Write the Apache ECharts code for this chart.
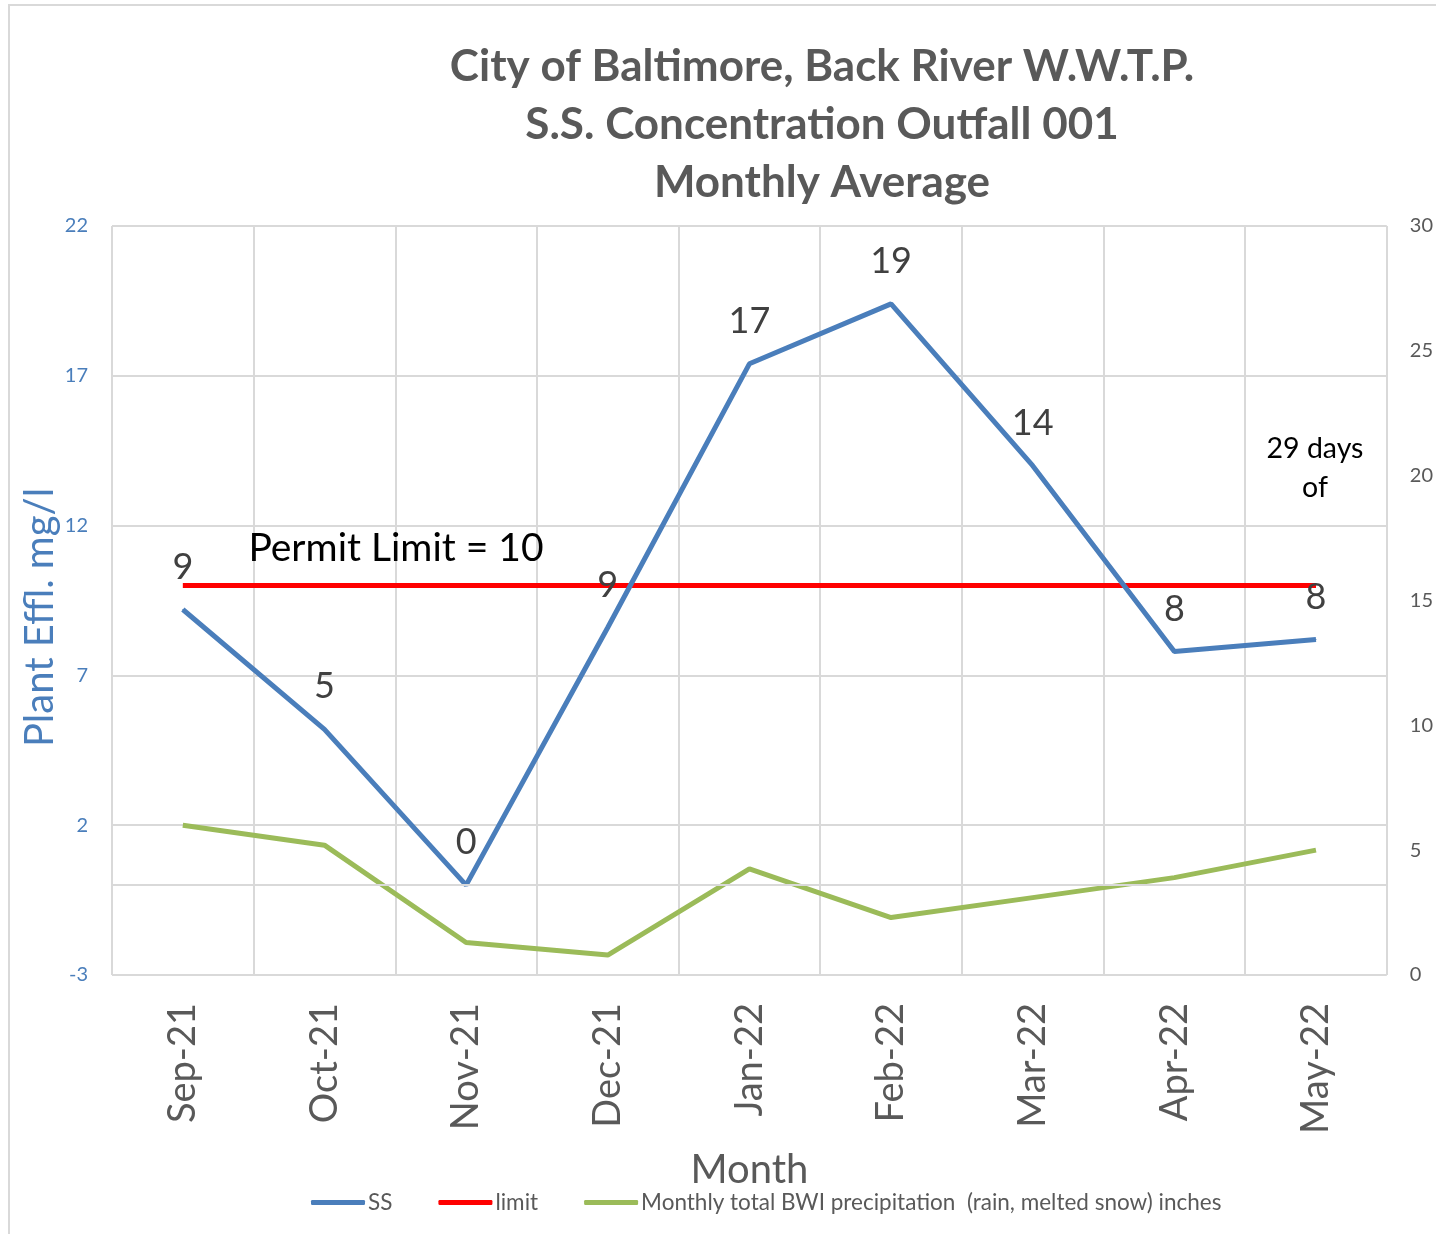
<!DOCTYPE html>
<html>
<head>
<meta charset="utf-8">
<script src="https://cdn.jsdelivr.net/npm/echarts@6/dist/echarts.min.js"></script>
<style>
  html, body { margin: 0; padding: 0; background: #fff; }
  #chart { width: 1436px; height: 1234px; }
</style>
</head>
<body>
<div id="chart"></div>
<script>
// values
const months = ["Sep-21", "Oct-21", "Nov-21", "Dec-21", "Jan-22", "Feb-22", "Mar-22", "Apr-22", "May-22"];
const ssValues = [9.2, 5.2, 0, 8.6, 17.4, 19.4, 14.0, 7.8, 8.2];
const limitValues = [10, 10, 10, 10, 10, 10, 10, 10, 10];
const precipValues = [6.0, 5.2, 1.3, 0.8, 4.25, 2.3, 3.1, 3.9, 5.0];

const font = "Lato, 'Open Sans', sans-serif";
const gridColor = "#d9d9d9";

const chart = echarts.init(document.getElementById("chart"));

let option = {
  backgroundColor: "#fff",
  textStyle: { fontFamily: font },
  title: {
    text: "City of Baltimore, Back River W.W.T.P.\nS.S. Concentration Outfall 001\nMonthly Average",
    left: 822,
    top: 38,
    padding: 0,
    textAlign: "center",
    textStyle: {
      fontFamily: font,
      fontSize: 44,
      fontWeight: "bold",
      color: "#595959",
      lineHeight: 58,
    },
  },
  legend: {
    data: ["SS", "limit", "Monthly total BWI precipitation  (rain, melted snow) inches"],
    left: 306,
    top: 1186,
    itemWidth: 54,
    itemHeight: 5,
    itemGap: 46,
    icon: "roundRect",
    textStyle: { fontFamily: font, fontSize: 22.5, color: "#595959", padding: [0, 0, 0, -2] },
  },
  grid: {
    left: 112,
    right: 49,
    top: 226,
    bottom: 259,
  },
  xAxis: {
    type: "category",
    data: months,
    boundaryGap: true,
    name: "Month",
    nameLocation: "middle",
    nameGap: 175,
    nameTextStyle: { fontFamily: font, fontSize: 40, color: "#595959" },
    axisLine: { show: false },
    axisTick: { show: false },
    axisLabel: { rotate: 90, fontSize: 38, color: "#595959", margin: 28, fontFamily: font },
    splitLine: { show: true, lineStyle: { color: gridColor, width: 2 } },
  },
  yAxis: [
    {
      type: "value",
      min: -3,
      max: 22,
      interval: 5,
      name: "Plant Effl. mg/l",
      nameLocation: "middle",
      nameGap: 52,
      nameMoveOverlap: false,
      nameTextStyle: { fontFamily: font, fontSize: 40, color: "#4A7EBB", padding: [0, 34, 0, 0] },
      axisLine: { show: false },
      axisTick: { show: false },
      axisLabel: { fontSize: 20, color: "#4A7EBB", margin: 24, fontFamily: font },
      splitLine: { show: true, lineStyle: { color: gridColor, width: 2 } },
    },
    {
      type: "value",
      min: 0,
      max: 30,
      interval: 5,
      position: "right",
      axisLine: { show: false },
      axisTick: { show: false },
      axisLabel: { fontSize: 20, color: "#595959", margin: 23, fontFamily: font },
      splitLine: { show: false },
    },
  ],
  series: [
    {
      name: "SS",
      type: "line",
      yAxisIndex: 0,
      data: ssValues,
      symbol: "circle",
      symbolSize: 1,
      itemStyle: { color: "#4A7EBB" },
      lineStyle: { color: "#4A7EBB", width: 5 },
      label: {
        show: true,
        position: "top",
        distance: 24,
        fontSize: 36,
        color: "#404040",
        fontFamily: font,
        formatter: (p) => Math.round(p.value),
      },
      markLine: {
        silent: true,
        symbol: "none",
        label: { show: false },
        lineStyle: { color: gridColor, width: 2, type: "solid" },
        data: [{ yAxis: 0 }],
      },
      z: 3,
    },
    {
      name: "limit",
      type: "line",
      yAxisIndex: 0,
      data: limitValues,
      symbol: "none",
      itemStyle: { color: "#FF0000" },
      lineStyle: { color: "#FF0000", width: 5 },
      z: 2,
    },
    {
      name: "Monthly total BWI precipitation  (rain, melted snow) inches",
      type: "line",
      yAxisIndex: 1,
      data: precipValues,
      symbol: "none",
      itemStyle: { color: "#9BBB59" },
      lineStyle: { color: "#9BBB59", width: 5 },
      z: 2,
    },
  ],
  graphic: [
    {
      type: "rect",
      shape: { x: 9, y: 5, width: 1500, height: 1300 },
      style: { fill: "none", stroke: gridColor, lineWidth: 2 },
      silent: true,
      z: -10,
    },
    {
      type: "text",
      x: 396,
      y: 548,
      z: 100,
      style: {
        text: "Permit Limit = 10",
        fontFamily: font,
        fontSize: 39,
        fill: "#000",
        align: "center",
        verticalAlign: "middle",
      },
    },
    {
      type: "text",
      x: 1315,
      y: 468,
      z: 100,
      style: {
        text: "29 days\nof",
        fontFamily: font,
        fontSize: 28.5,
        lineHeight: 39,
        fill: "#000",
        align: "center",
        verticalAlign: "middle",
      },
    },
  ],
};

chart.setOption(option, true);
</script>
</body>
</html>
